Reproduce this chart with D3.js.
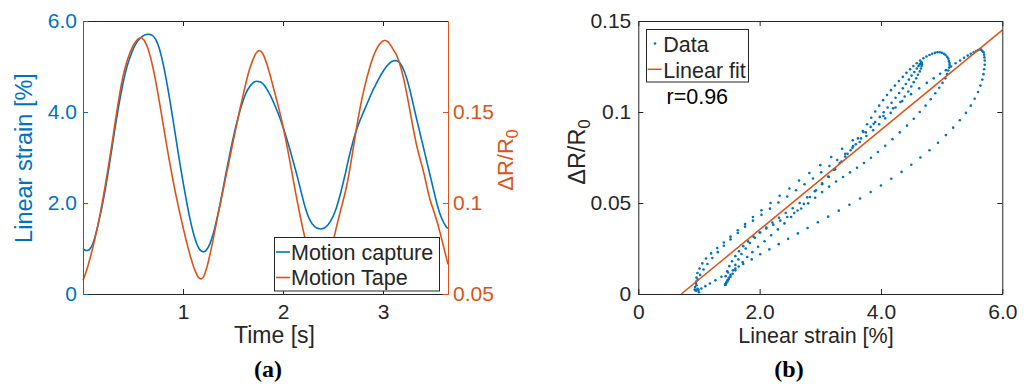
<!DOCTYPE html>
<html>
<head>
<meta charset="utf-8">
<script src="https://cdn.jsdelivr.net/npm/d3@7"></script>
<style>
  body { margin: 0; background: #fff; }
  svg { display: block; }
</style>
</head>
<body>
<svg id="chart" width="1029" height="385"></svg>
<script>
// [time s, linear strain %] from motion capture
const motionCapture = [
  [0, 1.00], [0.0125, 0.975], [0.025, 0.96], [0.0375, 0.955], [0.05, 0.96], [0.0625, 0.975], [0.075, 1.01], [0.0875, 1.055],
  [0.1, 1.115], [0.1125, 1.2], [0.125, 1.3], [0.1375, 1.41], [0.15, 1.52], [0.1625, 1.64], [0.175, 1.76], [0.1875, 1.89],
  [0.2, 2.03], [0.2125, 2.18], [0.225, 2.33], [0.2375, 2.49], [0.25, 2.65], [0.2625, 2.82], [0.275, 3.0], [0.2875, 3.18],
  [0.3, 3.36], [0.3125, 3.535], [0.325, 3.71], [0.3375, 3.88], [0.35, 4.04], [0.3625, 4.2], [0.375, 4.35], [0.3875, 4.495],
  [0.4, 4.63], [0.4125, 4.755], [0.425, 4.87], [0.4375, 4.975], [0.45, 5.07], [0.4625, 5.155], [0.475, 5.23], [0.4875, 5.305],
  [0.5, 5.37], [0.5125, 5.43], [0.525, 5.48], [0.5375, 5.53], [0.55, 5.57], [0.5625, 5.6], [0.575, 5.63], [0.5875, 5.65],
  [0.6, 5.67], [0.6125, 5.69], [0.625, 5.7], [0.6375, 5.705], [0.65, 5.71], [0.6625, 5.71], [0.675, 5.7], [0.6875, 5.69],
  [0.7, 5.67], [0.7125, 5.64], [0.725, 5.6], [0.7375, 5.545], [0.75, 5.48], [0.7625, 5.4], [0.775, 5.3], [0.7875, 5.19],
  [0.8, 5.07], [0.8125, 4.94], [0.825, 4.8], [0.8375, 4.65], [0.85, 4.5], [0.8625, 4.34], [0.875, 4.17], [0.8875, 4.0],
  [0.9, 3.83], [0.9125, 3.655], [0.925, 3.48], [0.9375, 3.305], [0.95, 3.13], [0.9625, 2.96], [0.975, 2.79], [0.9875, 2.63],
  [1.0, 2.47], [1.0125, 2.315], [1.025, 2.16], [1.0375, 2.01], [1.05, 1.87], [1.0625, 1.73], [1.075, 1.6], [1.0875, 1.48],
  [1.1, 1.37], [1.1125, 1.27], [1.125, 1.18], [1.1375, 1.105], [1.15, 1.04], [1.1625, 0.995], [1.175, 0.96], [1.1875, 0.94],
  [1.2, 0.93], [1.2125, 0.935], [1.225, 0.95], [1.2375, 0.98], [1.25, 1.02], [1.2625, 1.075], [1.275, 1.14], [1.2875, 1.22],
  [1.3, 1.31], [1.3125, 1.41], [1.325, 1.52], [1.3375, 1.64], [1.35, 1.76], [1.3625, 1.89], [1.375, 2.03], [1.3875, 2.17],
  [1.4, 2.31], [1.4125, 2.455], [1.425, 2.6], [1.4375, 2.74], [1.45, 2.88], [1.4625, 3.015], [1.475, 3.15], [1.4875, 3.28],
  [1.5, 3.41], [1.5125, 3.53], [1.525, 3.65], [1.5375, 3.76], [1.55, 3.87], [1.5625, 3.97], [1.575, 4.07], [1.5875, 4.16],
  [1.6, 4.24], [1.6125, 4.32], [1.625, 4.39], [1.6375, 4.45], [1.65, 4.5], [1.6625, 4.54], [1.675, 4.58], [1.6875, 4.61],
  [1.7, 4.64], [1.7125, 4.66], [1.725, 4.67], [1.7375, 4.675], [1.75, 4.67], [1.7625, 4.665], [1.775, 4.66], [1.7875, 4.64],
  [1.8, 4.62], [1.8125, 4.59], [1.825, 4.55], [1.8375, 4.505], [1.85, 4.46], [1.8625, 4.41], [1.875, 4.36], [1.8875, 4.3],
  [1.9, 4.24], [1.9125, 4.175], [1.925, 4.11], [1.9375, 4.045], [1.95, 3.98], [1.9625, 3.905], [1.975, 3.83], [1.9875, 3.75],
  [2.0, 3.67], [2.0125, 3.585], [2.025, 3.5], [2.0375, 3.41], [2.05, 3.32], [2.0625, 3.225], [2.075, 3.13], [2.0875, 3.03],
  [2.1, 2.93], [2.1125, 2.83], [2.125, 2.73], [2.1375, 2.625], [2.15, 2.52], [2.1625, 2.41], [2.175, 2.3], [2.1875, 2.19],
  [2.2, 2.08], [2.2125, 1.975], [2.225, 1.88], [2.2375, 1.795], [2.25, 1.72], [2.2625, 1.655], [2.275, 1.6], [2.2875, 1.555],
  [2.3, 1.52], [2.3125, 1.49], [2.325, 1.47], [2.3375, 1.45], [2.35, 1.44], [2.3625, 1.435], [2.375, 1.43], [2.3875, 1.435],
  [2.4, 1.44], [2.4125, 1.45], [2.425, 1.47], [2.4375, 1.49], [2.45, 1.52], [2.4625, 1.56], [2.475, 1.6], [2.4875, 1.65],
  [2.5, 1.7], [2.5125, 1.77], [2.525, 1.84], [2.5375, 1.92], [2.55, 2.01], [2.5625, 2.11], [2.575, 2.21], [2.5875, 2.32],
  [2.6, 2.43], [2.6125, 2.545], [2.625, 2.66], [2.6375, 2.785], [2.65, 2.91], [2.6625, 3.03], [2.675, 3.14], [2.6875, 3.245],
  [2.7, 3.35], [2.7125, 3.45], [2.725, 3.54], [2.7375, 3.62], [2.75, 3.7], [2.7625, 3.77], [2.775, 3.84], [2.7875, 3.905],
  [2.8, 3.97], [2.8125, 4.035], [2.825, 4.1], [2.8375, 4.165], [2.85, 4.23], [2.8625, 4.295], [2.875, 4.36], [2.8875, 4.42],
  [2.9, 4.48], [2.9125, 4.535], [2.925, 4.59], [2.9375, 4.645], [2.95, 4.7], [2.9625, 4.75], [2.975, 4.8], [2.9875, 4.845],
  [3.0, 4.89], [3.0125, 4.93], [3.025, 4.97], [3.0375, 5.005], [3.05, 5.04], [3.0625, 5.065], [3.075, 5.09], [3.0875, 5.11],
  [3.1, 5.12], [3.1125, 5.13], [3.125, 5.13], [3.1375, 5.125], [3.15, 5.11], [3.1625, 5.09], [3.175, 5.06], [3.1875, 5.015],
  [3.2, 4.96], [3.2125, 4.895], [3.225, 4.82], [3.2375, 4.735], [3.25, 4.64], [3.2625, 4.54], [3.275, 4.43], [3.2875, 4.31],
  [3.3, 4.19], [3.3125, 4.07], [3.325, 3.95], [3.3375, 3.835], [3.35, 3.72], [3.3625, 3.605], [3.375, 3.49], [3.3875, 3.375],
  [3.4, 3.26], [3.4125, 3.145], [3.425, 3.03], [3.4375, 2.915], [3.45, 2.8], [3.4625, 2.685], [3.475, 2.57], [3.4875, 2.455],
  [3.5, 2.34], [3.5125, 2.225], [3.525, 2.11], [3.5375, 2.0], [3.55, 1.9], [3.5625, 1.81], [3.575, 1.73], [3.5875, 1.66],
  [3.6, 1.6], [3.6125, 1.545], [3.625, 1.5], [3.6375, 1.465], [3.65, 1.44]
];

// [time s, ΔR/R0] of the motion tape
const motionTape = [
  [0, 0.0575], [0.0125, 0.0593], [0.025, 0.0613], [0.0375, 0.0633], [0.05, 0.0655], [0.0625, 0.068], [0.075, 0.0705], [0.0875, 0.0733],
  [0.1, 0.076], [0.1125, 0.0788], [0.125, 0.0818], [0.1375, 0.0848], [0.15, 0.088], [0.1625, 0.0915], [0.175, 0.095], [0.1875, 0.0988],
  [0.2, 0.1025], [0.2125, 0.1065], [0.225, 0.1105], [0.2375, 0.1145], [0.25, 0.1188], [0.2625, 0.123], [0.275, 0.1273], [0.2875, 0.1318],
  [0.3, 0.1363], [0.3125, 0.141], [0.325, 0.1455], [0.3375, 0.15], [0.35, 0.1543], [0.3625, 0.1585], [0.375, 0.1625], [0.3875, 0.1663],
  [0.4, 0.1695], [0.4125, 0.1725], [0.425, 0.175], [0.4375, 0.1775], [0.45, 0.1795], [0.4625, 0.1815], [0.475, 0.1833], [0.4875, 0.1848],
  [0.5, 0.1863], [0.5125, 0.1875], [0.525, 0.1885], [0.5375, 0.1893], [0.55, 0.19], [0.5625, 0.1905], [0.575, 0.1908], [0.5875, 0.1908],
  [0.6, 0.19], [0.6125, 0.1893], [0.625, 0.188], [0.6375, 0.1865], [0.65, 0.1848], [0.6625, 0.1825], [0.675, 0.18], [0.6875, 0.1773],
  [0.7, 0.1743], [0.7125, 0.171], [0.725, 0.1675], [0.7375, 0.1638], [0.75, 0.16], [0.7625, 0.156], [0.775, 0.152], [0.7875, 0.1479],
  [0.8, 0.1438], [0.8125, 0.1396], [0.825, 0.1355], [0.8375, 0.1315], [0.85, 0.1275], [0.8625, 0.1236], [0.875, 0.1198], [0.8875, 0.1161],
  [0.9, 0.1125], [0.9125, 0.109], [0.925, 0.1055], [0.9375, 0.1023], [0.95, 0.099], [0.9625, 0.0959], [0.975, 0.0928], [0.9875, 0.0898],
  [1.0, 0.0868], [1.0125, 0.0839], [1.025, 0.081], [1.0375, 0.0783], [1.05, 0.0755], [1.0625, 0.073], [1.075, 0.0705], [1.0875, 0.0683],
  [1.1, 0.066], [1.1125, 0.064], [1.125, 0.0623], [1.1375, 0.0608], [1.15, 0.0595], [1.1625, 0.0588], [1.175, 0.0583], [1.1875, 0.0585],
  [1.2, 0.059], [1.2125, 0.0603], [1.225, 0.0623], [1.2375, 0.0645], [1.25, 0.067], [1.2625, 0.07], [1.275, 0.073], [1.2875, 0.0763],
  [1.3, 0.0795], [1.3125, 0.083], [1.325, 0.0865], [1.3375, 0.09], [1.35, 0.0935], [1.3625, 0.0968], [1.375, 0.1], [1.3875, 0.1034],
  [1.4, 0.1068], [1.4125, 0.1101], [1.425, 0.1135], [1.4375, 0.1168], [1.45, 0.12], [1.4625, 0.1234], [1.475, 0.1268], [1.4875, 0.1301],
  [1.5, 0.1335], [1.5125, 0.1368], [1.525, 0.14], [1.5375, 0.1433], [1.55, 0.1465], [1.5625, 0.1498], [1.575, 0.153], [1.5875, 0.156],
  [1.6, 0.159], [1.6125, 0.162], [1.625, 0.165], [1.6375, 0.1678], [1.65, 0.1705], [1.6625, 0.1729], [1.675, 0.175], [1.6875, 0.177],
  [1.7, 0.1788], [1.7125, 0.1804], [1.725, 0.1818], [1.7375, 0.1828], [1.75, 0.1835], [1.7625, 0.1838], [1.775, 0.1835], [1.7875, 0.1828],
  [1.8, 0.1818], [1.8125, 0.1804], [1.825, 0.1785], [1.8375, 0.1765], [1.85, 0.1743], [1.8625, 0.1719], [1.875, 0.1695], [1.8875, 0.1669],
  [1.9, 0.1643], [1.9125, 0.1616], [1.925, 0.159], [1.9375, 0.1564], [1.95, 0.1538], [1.9625, 0.151], [1.975, 0.1483], [1.9875, 0.1453],
  [2.0, 0.142], [2.0125, 0.1388], [2.025, 0.1355], [2.0375, 0.132], [2.05, 0.1285], [2.0625, 0.1248], [2.075, 0.121], [2.0875, 0.1173],
  [2.1, 0.1135], [2.1125, 0.1098], [2.125, 0.106], [2.1375, 0.1024], [2.15, 0.0988], [2.1625, 0.0953], [2.175, 0.092], [2.1875, 0.0888],
  [2.2, 0.0855], [2.2125, 0.0825], [2.225, 0.0795], [2.2375, 0.0768], [2.25, 0.074], [2.2625, 0.0716], [2.275, 0.0695], [2.2875, 0.0676],
  [2.3, 0.066], [2.3125, 0.0646], [2.325, 0.0635], [2.3375, 0.0626], [2.35, 0.062], [2.3625, 0.0616], [2.375, 0.0615], [2.3875, 0.0616],
  [2.4, 0.062], [2.4125, 0.0628], [2.425, 0.064], [2.4375, 0.0654], [2.45, 0.067], [2.4625, 0.0695], [2.475, 0.0725], [2.4875, 0.0755],
  [2.5, 0.0785], [2.5125, 0.0815], [2.525, 0.0845], [2.5375, 0.0874], [2.55, 0.0903], [2.5625, 0.093], [2.575, 0.0958], [2.5875, 0.0984],
  [2.6, 0.101], [2.6125, 0.1036], [2.625, 0.1065], [2.6375, 0.1096], [2.65, 0.113], [2.6625, 0.1168], [2.675, 0.1208], [2.6875, 0.125],
  [2.7, 0.1293], [2.7125, 0.1335], [2.725, 0.1378], [2.7375, 0.142], [2.75, 0.146], [2.7625, 0.1498], [2.775, 0.1533], [2.7875, 0.1568],
  [2.8, 0.16], [2.8125, 0.163], [2.825, 0.1658], [2.8375, 0.1685], [2.85, 0.171], [2.8625, 0.1735], [2.875, 0.1758], [2.8875, 0.178],
  [2.9, 0.18], [2.9125, 0.1818], [2.925, 0.1833], [2.9375, 0.1848], [2.95, 0.186], [2.9625, 0.187], [2.975, 0.1878], [2.9875, 0.1885],
  [3.0, 0.189], [3.0125, 0.1893], [3.025, 0.1893], [3.0375, 0.189], [3.05, 0.1885], [3.0625, 0.1878], [3.075, 0.1868], [3.0875, 0.1858],
  [3.1, 0.1845], [3.1125, 0.1834], [3.125, 0.1823], [3.1375, 0.1809], [3.15, 0.1793], [3.1625, 0.1773], [3.175, 0.175], [3.1875, 0.1725],
  [3.2, 0.1698], [3.2125, 0.1668], [3.225, 0.1635], [3.2375, 0.16], [3.25, 0.1565], [3.2625, 0.1528], [3.275, 0.149], [3.2875, 0.1453],
  [3.3, 0.1415], [3.3125, 0.1379], [3.325, 0.1345], [3.3375, 0.1314], [3.35, 0.1285], [3.3625, 0.1259], [3.375, 0.1233], [3.3875, 0.1208],
  [3.4, 0.1183], [3.4125, 0.1155], [3.425, 0.1125], [3.4375, 0.1094], [3.45, 0.1063], [3.4625, 0.1035], [3.475, 0.101], [3.4875, 0.0988],
  [3.5, 0.0968], [3.5125, 0.0946], [3.525, 0.0925], [3.5375, 0.0903], [3.55, 0.088], [3.5625, 0.0854], [3.575, 0.0828], [3.5875, 0.08],
  [3.6, 0.0773], [3.6125, 0.0745], [3.625, 0.0718], [3.6375, 0.069], [3.65, 0.0663]
];

// resting ΔR/R0 subtracted for the scatter panel
const tapeRest = 0.0565;

const fitStrain = [0.709, 6.0];
const fitResistance = [0, 0.145];
const fitR = 'r=0.96';

const timeTicks = [1, 2, 3];
const strainTicks = [0, 2, 4, 6];
const tapeTicks = [0.05, 0.1, 0.15];
const scatterXTicks = [0, 2, 4, 6];
const scatterYTicks = [0, 0.05, 0.1, 0.15];

const BLUE = '#0072BD';
const ORANGE = '#D95319';
const DARK = '#262626';
const FONT = '"Liberation Sans", Arial, Helvetica, sans-serif';
const SERIF = '"Liberation Serif", "Times New Roman", serif';

const svg = d3.select('#chart');
svg.append('rect').attr('width', 1029).attr('height', 385).attr('fill', '#fff');

const strainFmt = (d) => d === 0 ? '0' : d.toFixed(1);
const plainFmt = (d) => String(+d.toFixed(2));
const timeKey = (t) => Math.round(t * 10000);

function styleAxis(g, color, size) {
  g.attr('font-family', FONT).attr('font-size', size);
  g.select('.domain').attr('stroke', color);
  g.selectAll('.tick line').attr('stroke', color);
  g.selectAll('.tick text').attr('fill', color);
}

// ---------- panel (a) ----------
const a = { left: 83, right: 448, top: 21, bottom: 294 };

const xA = d3.scaleLinear().domain([0, 3.65]).range([a.left, a.right]);
const yStrain = d3.scaleLinear().domain([0, 6]).range([a.bottom, a.top]);
const yTape = d3.scaleLinear().domain([0.05, 0.2]).range([a.bottom, a.top]);

const panelA = svg.append('g');

panelA.append('path')
  .datum(motionCapture)
  .attr('fill', 'none')
  .attr('stroke', BLUE)
  .attr('stroke-width', 1.6)
  .attr('d', d3.line()
    .x((d) => xA(d[0]))
    .y((d) => yStrain(d[1]))
    .curve(d3.curveMonotoneX));

panelA.append('path')
  .datum(motionTape)
  .attr('fill', 'none')
  .attr('stroke', ORANGE)
  .attr('stroke-width', 1.6)
  .attr('d', d3.line()
    .x((d) => xA(d[0]))
    .y((d) => yTape(d[1]))
    .curve(d3.curveMonotoneX));

panelA.append('g')
  .attr('transform', `translate(0, ${a.bottom})`)
  .call(d3.axisBottom(xA).tickValues(timeTicks).tickFormat(d3.format('d'))
    .tickSizeInner(-5).tickSizeOuter(0).tickPadding(10))
  .call((g) => styleAxis(g, DARK, 21));

panelA.append('g')
  .attr('transform', `translate(0, ${a.top})`)
  .call(d3.axisTop(xA).tickValues(timeTicks).tickFormat('')
    .tickSizeInner(-5).tickSizeOuter(0))
  .call((g) => styleAxis(g, DARK, 21));

panelA.append('g')
  .attr('transform', `translate(${a.left}, 0)`)
  .call(d3.axisLeft(yStrain).tickValues(strainTicks).tickFormat(strainFmt)
    .tickSizeInner(-5).tickSizeOuter(0).tickPadding(6))
  .call((g) => styleAxis(g, BLUE, 21));

panelA.append('g')
  .attr('transform', `translate(${a.right}, 0)`)
  .call(d3.axisRight(yTape).tickValues(tapeTicks).tickFormat(plainFmt)
    .tickSizeInner(-5).tickSizeOuter(0).tickPadding(5))
  .call((g) => styleAxis(g, ORANGE, 21));

// legend (a)
const legA = panelA.append('g').attr('font-family', FONT).attr('font-size', 21.5).attr('fill', DARK);
legA.append('rect')
  .attr('x', 274.5).attr('y', 237.5).attr('width', 165).attr('height', 53.5)
  .attr('fill', '#fff').attr('stroke', DARK).attr('stroke-width', 1);
[['Motion capture', BLUE, 252], ['Motion Tape', ORANGE, 277.5]].forEach(([label, color, y]) => {
  legA.append('line')
    .attr('x1', 276).attr('x2', 290).attr('y1', y).attr('y2', y)
    .attr('stroke', color).attr('stroke-width', 1.6);
  legA.append('text').attr('x', 291).attr('y', y + 7.5).text(label);
});

panelA.append('text')
  .attr('transform', 'translate(32, 158) rotate(-90)')
  .attr('text-anchor', 'middle')
  .attr('font-family', FONT).attr('font-size', 23.5).attr('fill', BLUE)
  .text('Linear strain [%]');

const rLabelA = panelA.append('text')
  .attr('transform', 'translate(513, 160) rotate(-90)')
  .attr('text-anchor', 'middle')
  .attr('font-family', FONT).attr('font-size', 22).attr('fill', ORANGE);
rLabelA.append('tspan').text('ΔR/R');
rLabelA.append('tspan').attr('dy', '0.3em').attr('font-size', 16).text('0');

panelA.append('text')
  .attr('x', 274.5).attr('y', 343)
  .attr('text-anchor', 'middle')
  .attr('font-family', FONT).attr('font-size', 23).attr('fill', DARK)
  .text('Time [s]');

panelA.append('text')
  .attr('x', 268).attr('y', 377)
  .attr('text-anchor', 'middle')
  .attr('font-family', SERIF).attr('font-size', 24).attr('font-weight', 'bold').attr('fill', '#000')
  .text('(a)');

// ---------- panel (b) ----------
const b = { left: 638.3, right: 1002.3, top: 21, bottom: 294 };

const xB = d3.scaleLinear().domain([0, 6]).range([b.left, b.right]);
const yB = d3.scaleLinear().domain([0, 0.15]).range([b.bottom, b.top]);

const panelB = svg.append('g');

const tapeByTime = new Map(motionTape.map(([t, v]) => [timeKey(t), v]));
const scatter = motionCapture
  .filter(([t]) => tapeByTime.has(timeKey(t)))
  .map(([t, s]) => ({ strain: s, dr: tapeByTime.get(timeKey(t)) - tapeRest }));

panelB.append('g')
  .selectAll('circle')
  .data(scatter)
  .join('circle')
  .attr('cx', (d) => xB(d.strain))
  .attr('cy', (d) => yB(d.dr))
  .attr('r', 1.3)
  .attr('fill', BLUE);

panelB.append('path')
  .datum(fitStrain)
  .attr('fill', 'none')
  .attr('stroke', ORANGE)
  .attr('stroke-width', 1.5)
  .attr('d', d3.line()
    .x((d) => xB(d))
    .y((d, i) => yB(fitResistance[i])));

panelB.append('g')
  .attr('transform', `translate(0, ${b.bottom})`)
  .call(d3.axisBottom(xB).tickValues(scatterXTicks).tickFormat(strainFmt)
    .tickSizeInner(-5).tickSizeOuter(0).tickPadding(10))
  .call((g) => styleAxis(g, DARK, 21));

panelB.append('g')
  .attr('transform', `translate(0, ${b.top})`)
  .call(d3.axisTop(xB).tickValues(scatterXTicks).tickFormat('')
    .tickSizeInner(-5).tickSizeOuter(0))
  .call((g) => styleAxis(g, DARK, 21));

panelB.append('g')
  .attr('transform', `translate(${b.left}, 0)`)
  .call(d3.axisLeft(yB).tickValues(scatterYTicks).tickFormat(plainFmt)
    .tickSizeInner(-5).tickSizeOuter(0).tickPadding(7))
  .call((g) => styleAxis(g, DARK, 21));

panelB.append('g')
  .attr('transform', `translate(${b.right}, 0)`)
  .call(d3.axisRight(yB).tickValues(scatterYTicks).tickFormat('')
    .tickSizeInner(-5).tickSizeOuter(0))
  .call((g) => styleAxis(g, DARK, 21));

// legend (b)
const legB = panelB.append('g').attr('font-family', FONT).attr('font-size', 21.5).attr('fill', DARK);
legB.append('rect')
  .attr('x', 646.5).attr('y', 29.5).attr('width', 102).attr('height', 52.5)
  .attr('fill', '#fff').attr('stroke', DARK).attr('stroke-width', 1);
legB.append('circle').attr('cx', 655).attr('cy', 43.5).attr('r', 1.3).attr('fill', BLUE);
legB.append('text').attr('x', 663.3).attr('y', 51.5).text('Data');
legB.append('line')
  .attr('x1', 647.7).attr('x2', 661.7).attr('y1', 69.3).attr('y2', 69.3)
  .attr('stroke', ORANGE).attr('stroke-width', 1.5);
legB.append('text').attr('x', 663.3).attr('y', 77.5).text('Linear fit');

panelB.append('text')
  .attr('x', 666.5).attr('y', 103.5)
  .attr('font-family', FONT).attr('font-size', 21.5).attr('fill', '#000')
  .text(fitR);

panelB.append('text')
  .attr('x', 816).attr('y', 343)
  .attr('text-anchor', 'middle')
  .attr('font-family', FONT).attr('font-size', 21.5).attr('fill', DARK)
  .text('Linear strain [%]');

const rLabelB = panelB.append('text')
  .attr('transform', 'translate(585, 152) rotate(-90)')
  .attr('text-anchor', 'middle')
  .attr('font-family', FONT).attr('font-size', 23.5).attr('fill', DARK);
rLabelB.append('tspan').text('ΔR/R');
rLabelB.append('tspan').attr('dy', '0.3em').attr('font-size', 17).text('0');

panelB.append('text')
  .attr('x', 789).attr('y', 377)
  .attr('text-anchor', 'middle')
  .attr('font-family', SERIF).attr('font-size', 24).attr('font-weight', 'bold').attr('fill', '#000')
  .text('(b)');
</script>
</body>
</html>
